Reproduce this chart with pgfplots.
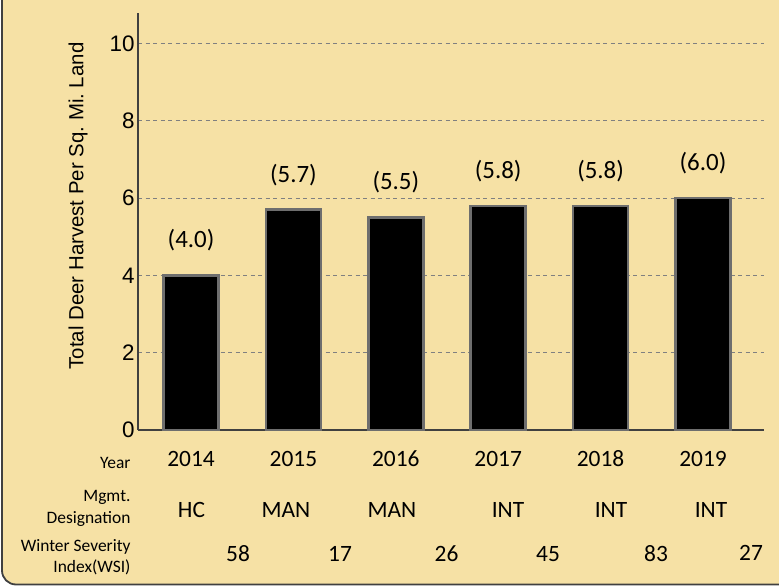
\documentclass[border=0pt]{standalone}
\usepackage{fontspec}
\setmainfont{Liberation Sans}
\newfontfamily\carlito{Carlito}
\usepackage{pgfplots}
\pgfplotsset{compat=1.18}
\definecolor{bgtan}{RGB}{246,225,165}
\definecolor{axgray}{RGB}{64,64,64}
\definecolor{gridgray}{RGB}{128,128,128}
\definecolor{bargray}{RGB}{110,110,110}
\begin{document}
\begin{tikzpicture}
\begin{scope}[x=1bp,y=-1bp]
\useasboundingbox (0,0) rectangle (779,586);
\begin{scope}
\clip (0,0) rectangle (779,586);
\draw[axgray, line width=1.8bp, fill=bgtan, rounded corners=14bp] (2,-40) rectangle (820,584.5);
\end{scope}
\end{scope}
\begin{axis}[
  at={(138bp,-430bp)}, anchor=south west,
  scale only axis, width=626bp, height=416.7bp,
  xmin=-0.518, xmax=5.596, ymin=0, ymax=10.78,
  axis x line=bottom, axis y line=left,
  axis line style={-, axgray, line width=2bp},
  xtick={0,1,2,3,4,5},
  xticklabels={2014,2015,2016,2017,2018,2019},
  xticklabel style={font=\carlito\fontsize{23.5}{28}\selectfont, text height=15bp, text depth=0pt, yshift=-18bp},
  ytick={0,2,4,6,8,10},
  major tick length=0pt,
  ymajorgrids, grid style={gridgray, dash pattern=on 4bp off 3.5bp, line width=0.9bp},
  yticklabel style={font=\fontsize{22.5}{27}\selectfont},
  /pgf/number format/assume math mode=true,
  ybar, bar width=55bp,
  nodes near coords={(\pgfmathprintnumber[fixed,fixed zerofill,precision=1]{\pgfplotspointmeta})},
  every node near coord/.append style={font=\carlito\fontsize{25}{30}\selectfont, anchor=center, yshift=35bp, black},
  clip=false,
]
\addplot[fill=black, draw=bargray, line width=2.5bp] coordinates {(0,4.0) (1,5.7) (2,5.5) (3,5.8) (4,5.8) (5,6.0)};
\end{axis}
\begin{scope}[x=1bp,y=-1bp]
\node[rotate=90, font=\fontsize{20.5}{24}\selectfont] at (78,206) {Total Deer Harvest Per Sq.\ Mi.\ Land};
\node[anchor=east, font=\carlito\fontsize{17.5}{21}\selectfont] at (134,463) {Year};
\node[anchor=east, align=right, font=\carlito\fontsize{17.5}{22}\selectfont] at (134,508) {Mgmt.\\Designation};
\node[anchor=east, align=right, font=\carlito\fontsize{17.5}{21}\selectfont] at (134,557.5) {Winter Severity\\Index(WSI)};
\begin{scope}[every node/.style={font=\carlito\fontsize{23.5}{28}\selectfont}]
\node at (191.5,510) {HC};
\node at (286,510) {MAN};
\node at (392,510) {MAN};
\node at (508,510) {INT};
\node at (611,510) {INT};
\node at (711,510) {INT};
\node at (238,554) {58};
\node at (340,554) {17};
\node at (446.5,554) {26};
\node at (548,554) {45};
\node at (656,554) {83};
\node at (751,553) {27};
\end{scope}
\end{scope}
\end{tikzpicture}
\end{document}
